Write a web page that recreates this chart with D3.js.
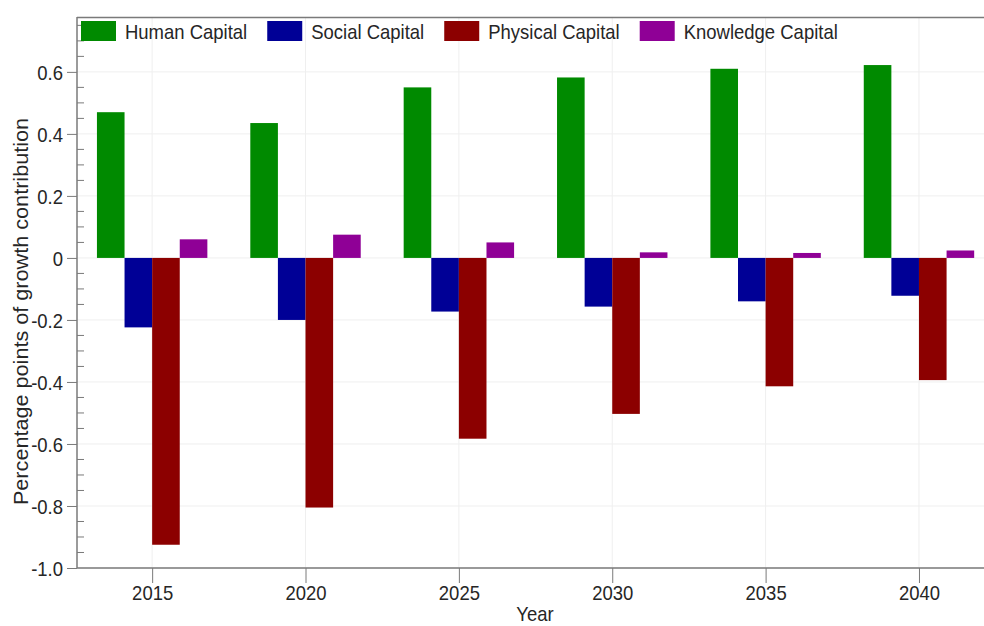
<!DOCTYPE html>
<html>
<head>
<meta charset="utf-8">
<script src="https://cdn.jsdelivr.net/npm/d3@7"></script>
<style>
  html, body { margin: 0; padding: 0; background: #fff; }
  svg { display: block; font-family: "Liberation Sans", Arial, sans-serif; }
</style>
</head>
<body>
<svg id="chart" width="984" height="626"></svg>
<script>
// Contribution of each type of capital to growth, percentage points
const years = [2015, 2020, 2025, 2030, 2035, 2040];
const seriesNames = ["Human Capital", "Social Capital", "Physical Capital", "Knowledge Capital"];
const humanCapital = [0.470, 0.435, 0.550, 0.582, 0.610, 0.622];
const socialCapital = [-0.224, -0.200, -0.173, -0.157, -0.140, -0.122];
const physicalCapital = [-0.925, -0.805, -0.583, -0.503, -0.414, -0.394];
const knowledgeCapital = [0.060, 0.075, 0.050, 0.018, 0.016, 0.024];
const seriesColors = ["#008a00", "#000096", "#8c0000", "#8f0096"];
const yTickValues = [0.6, 0.4, 0.2, 0, -0.2, -0.4, -0.6, -0.8, -1.0];
const yTickLabels = ["0.6", "0.4", "0.2", "0", "-0.2", "-0.4", "-0.6", "-0.8", "-1.0"];
const xTickLabels = ["2015", "2020", "2025", "2030", "2035", "2040"];
const yAxisTitle = "Percentage points of growth contribution";
const xAxisTitle = "Year";

const seriesValues = [humanCapital, socialCapital, physicalCapital, knowledgeCapital];

const svg = d3.select("#chart");
const plotLeft = 77, plotRight = 984, plotTop = 17, plotBottom = 568;

const x = d3.scaleLinear().domain([2012.55, 2042.12]).range([plotLeft, plotRight]);
const y = d3.scaleLinear().domain([-1.0, 0.777]).range([plotBottom, plotTop]);

// each year carries a cluster of four bars spanning 3.6 years
const inner = d3.scaleBand().domain(seriesNames).range([-1.8, 1.8]).padding(0);

const axisColor = "#7a7a7a";
const textColor = "#262626";
const squeeze = 0.88;

// faint grid
const grid = svg.append("g");
grid.selectAll("line.h").data(yTickValues).join("line")
  .attr("x1", plotLeft).attr("x2", plotRight)
  .attr("y1", d => y(d)).attr("y2", d => y(d))
  .attr("stroke", "#efefef").attr("stroke-width", 1);
grid.selectAll("line.v").data(years).join("line")
  .attr("x1", d => x(d)).attr("x2", d => x(d))
  .attr("y1", plotTop).attr("y2", plotBottom)
  .attr("stroke", "#efefef").attr("stroke-width", 1);

// bars
const bars = svg.append("g");
seriesNames.forEach((name, si) => {
  bars.append("g").selectAll("rect")
    .data(years.map((yr, i) => ({ yr, v: seriesValues[si][i] })))
    .join("rect")
    .attr("x", d => x(d.yr + inner(name)))
    .attr("width", d => x(d.yr + inner(name) + inner.bandwidth()) - x(d.yr + inner(name)))
    .attr("y", d => y(Math.max(0, d.v)))
    .attr("height", d => Math.abs(y(d.v) - y(0)))
    .attr("fill", seriesColors[si]);
});

// frame top line
svg.append("line")
  .attr("x1", plotLeft).attr("x2", plotRight).attr("y1", plotTop + 0.5).attr("y2", plotTop + 0.5)
  .attr("stroke", axisColor).attr("stroke-width", 1.5);

// y axis: major ticks outward, minor ticks inward
const yAxis = svg.append("g").attr("transform", `translate(${plotLeft},0)`)
  .call(d3.axisLeft(y).tickValues(yTickValues).tickSize(10).tickPadding(4)
    .tickFormat((d, i) => yTickLabels[i]));
const minorY = d3.range(-1.0, 0.7501, 0.05).map(v => +v.toFixed(2))
  .filter(v => !yTickValues.some(t => Math.abs(t - v) < 1e-6));
yAxis.selectAll("line.minor").data(minorY).join("line").attr("class", "minor")
  .attr("x1", 0).attr("x2", 7).attr("y1", d => y(d)).attr("y2", d => y(d))
  .attr("stroke", axisColor);

// x axis
const xAxis = svg.append("g").attr("transform", `translate(0,${plotBottom})`)
  .call(d3.axisBottom(x).tickValues(years).tickSize(15).tickPadding(2)
    .tickFormat((d, i) => xTickLabels[i]));

[yAxis, xAxis].forEach(g => {
  g.select(".domain").attr("stroke", axisColor).attr("stroke-width", 1.5);
  g.selectAll(".tick line").attr("stroke", axisColor);
  g.selectAll("text").attr("fill", textColor)
    .style("font-size", "21px").style("font-family", "'Liberation Sans', Arial, sans-serif");
});
xAxis.select(".domain").attr("d", `M${plotLeft},0H${plotRight}`);
yAxis.select(".domain").attr("d", `M0,${plotBottom}V${plotTop}`);
yAxis.selectAll(".tick text").attr("dy", "0.36em");

// axis titles
const yTitle = svg.append("text")
  .attr("transform", `translate(28,${(plotTop + plotBottom) / 2 + 19}) rotate(-90)`)
  .attr("text-anchor", "middle")
  .attr("fill", textColor).style("font-size", "21px")
  .text(yAxisTitle);
svg.append("text")
  .attr("x", 535).attr("y", 621)
  .attr("text-anchor", "middle")
  .attr("fill", textColor).style("font-size", "21px")
  .text(xAxisTitle);

// legend across the top of the plot
const legend = svg.append("g");
let lx = 81;
seriesNames.forEach((name, i) => {
  legend.append("rect").attr("x", lx).attr("y", 21).attr("width", 35).attr("height", 20)
    .attr("fill", seriesColors[i]);
  const t = legend.append("text").attr("x", lx + 44).attr("y", 39)
    .attr("fill", textColor).style("font-size", "21px").text(name);
  const w = t.node().getComputedTextLength() * squeeze;
  lx += 44 + w + 20;
});

// narrow letterforms for every label; the vertical title runs a little wider
svg.selectAll("text").each(function () {
  const w = this.getComputedTextLength();
  const k = this === yTitle.node() ? 1.03 : squeeze;
  this.setAttribute("textLength", (w * k).toFixed(1));
  this.setAttribute("lengthAdjust", "spacingAndGlyphs");
});
</script>
</body>
</html>
